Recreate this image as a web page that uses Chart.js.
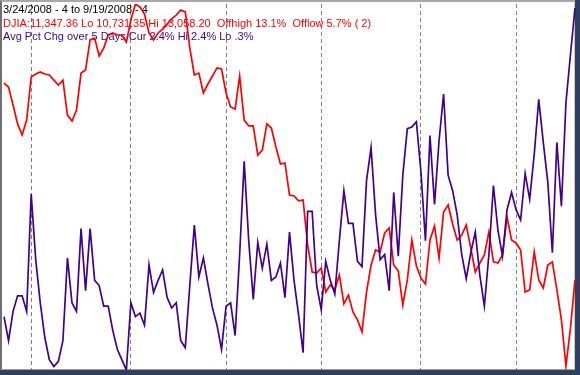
<!DOCTYPE html>
<html>
<head>
<meta charset="utf-8">
<script src="https://cdn.jsdelivr.net/npm/chart.js@4.4.0/dist/chart.umd.min.js"></script>
<style>
  html, body { margin: 0; padding: 0; background: #2b4064; }
  #frame { position: absolute; left: 0; top: 0; width: 580px; height: 375px; background: #2b4064; overflow: hidden; }
  #panel {
    position: absolute; left: 0; top: 0; width: 572px; height: 367px; background: #fff;
    border-left: 2px solid #707070; border-top: 2px solid #a8a8a8;
    border-right: 1px solid #c8c8c8; border-bottom: 1px solid #a0a0a0;
    box-shadow: 1px 1px 0 #404040;
  }
  #chart { position: absolute; left: 0; top: 0; }
</style>
</head>
<body>
<div id="frame">
  <div id="panel"></div>
  <canvas id="chart" width="580" height="375"></canvas>
</div>
<script>
// trading days, 3/24/2008 .. 9/19/2008
const marDays = [24, 25, 26, 27, 28, 31]
const aprDays = [1, 2, 3, 4, 7, 8, 9, 10, 11, 14, 15, 16, 17, 18, 21, 22, 23, 24, 25, 28, 29, 30]
const mayDays = [1, 2, 5, 6, 7, 8, 9, 12, 13, 14, 15, 16, 19, 20, 21, 22, 23, 27, 28, 29, 30]
const junDays = [2, 3, 4, 5, 6, 9, 10, 11, 12, 13, 16, 17, 18, 19, 20, 23, 24, 25, 26, 27, 30]
const julDays = [1, 2, 3, 7, 8, 9, 10, 11, 14, 15, 16, 17, 18, 21, 22, 23, 24, 25, 28, 29, 30, 31]
const augDays = [1, 4, 5, 6, 7, 8, 11, 12, 13, 14, 15, 18, 19, 20, 21, 22, 25, 26, 27, 28, 29]
const sepDays = [2, 3, 4, 5, 8, 9, 10, 11, 12, 15, 16, 17, 18, 19]

// DJIA closes
const djia = [
  12550, 12524, 12409, 12287, 12216, 12312, 12589, 12608, 12621, 12608,
  12602, 12569, 12537, 12569, 12344, 12306, 12377, 12614, 12634, 12827,
  12839, 12724, 12775, 12859, 12872, 12859, 12859, 12814, 12955, 13058.2,
  13039, 12994, 12872, 12827, 12872, 12897, 12929, 12962, 12987, 13019,
  13007, 12775, 12602, 12614, 12486, 12544, 12595, 12647, 12640, 12486,
  12396, 12383, 12595, 12312, 12274, 12274, 12087, 12119, 12287, 12261,
  12139, 12029, 12036, 11830, 11824, 11792, 11798, 11509, 11335, 11329,
  11361, 11207, 11252, 11220, 11316, 11130, 11187, 11078, 11027, 10950,
  11207, 11380, 11477, 11464, 11586, 11618, 11380, 11342, 11123, 11284,
  11541, 11374, 11297, 11258, 11541, 11631, 11425, 11721, 11766, 11644,
  11541, 11573, 11637, 11489, 11335, 11393, 11445, 11592, 11400, 11393,
  11445, 11689, 11541, 11522, 11477, 11207, 11220, 11464, 11284, 11232,
  11380, 11400, 11220, 11027, 10731.35, 10975, 11284
]

// average pct change over 5 days (blue line)
const avgPctChg = [
  0.61, 0.47, 0.64, 0.73, 0.73, 0.64, 1.32, 0.94, 0.69, 0.49,
  0.36, 0.32, 0.35, 0.47, 0.95, 0.69, 0.64, 1.12, 0.76, 1.12,
  0.82, 0.79, 0.67, 0.67, 0.53, 0.42, 0.36, 0.30, 0.69, 0.61,
  0.63, 0.56, 0.91, 0.75, 0.82, 0.88, 0.72, 0.66, 0.69, 0.47,
  0.43, 0.79, 1.14, 0.84, 0.95, 0.80, 0.66, 0.56, 0.42, 0.67,
  0.69, 0.50, 0.97, 1.51, 1.05, 0.71, 1.04, 0.89, 1.03, 0.82,
  0.84, 0.92, 0.72, 1.10, 0.82, 0.62, 0.40, 1.22, 1.22, 0.79,
  0.65, 0.93, 0.82, 0.74, 1.05, 1.34, 1.15, 1.15, 0.93, 0.90,
  1.40, 1.59, 1.20, 0.94, 0.97, 0.76, 1.33, 0.96, 1.43, 1.70,
  1.71, 1.74, 1.45, 1.05, 1.66, 1.26, 1.63, 1.90, 1.43, 1.34,
  1.20, 0.97, 0.83, 0.98, 1.10, 0.85, 0.67, 0.97, 1.37, 1.11,
  0.96, 1.23, 1.33, 1.23, 1.17, 1.44, 1.29, 1.55, 1.87, 1.62,
  1.39, 0.98, 1.62, 1.25, 1.85, 2.13, 2.40
]

const headerLines = [
  { text: "3/24/2008 - 4 to 9/19/2008 - 4", color: "#000000" },
  { text: "DJIA:11,347.36 Lo 10,731.35 Hi 13,058.20  Offhigh 13.1%  Offlow 5.7% ( 2)", color: "#ff0000" },
  { text: "Avg Pct Chg over 5 Days Cur 2.4% Hi 2.4% Lo .3%", color: "#42008c" },
]

const months = [
  [3, marDays], [4, aprDays], [5, mayDays], [6, junDays], [7, julDays], [8, augDays], [9, sepDays],
]
const labels = []
const monthOf = []
months.forEach(([m, days]) => {
  days.forEach((d) => {
    labels.push(m + "/" + d + "/2008")
    monthOf.push(m)
  })
})

// text block in the upper left, under the lines
const headerText = {
  id: "headerText",
  beforeDatasetsDraw(chart) {
    const ctx = chart.ctx
    ctx.save()
    ctx.font = '11px "Liberation Sans", Arial, sans-serif'
    ctx.textBaseline = "alphabetic"
    ctx.textAlign = "left"
    headerLines.forEach((line, i) => {
      ctx.fillStyle = line.color
      ctx.fillText(line.text, 3, 13 + i * 13.5)
    })
    ctx.restore()
  },
}

new Chart(document.getElementById("chart"), {
  type: "line",
  data: {
    labels: labels,
    datasets: [
      {
        label: "DJIA",
        data: djia,
        borderColor: "#ff0000",
        borderWidth: 1.7,
        pointRadius: 0,
        tension: 0,
        yAxisID: "yDjia",
        order: 2,
      },
      {
        label: "Avg Pct Chg over 5 Days",
        data: avgPctChg,
        borderColor: "#42008c",
        borderWidth: 1.7,
        pointRadius: 0,
        tension: 0,
        yAxisID: "yPct",
        order: 1,
      },
    ],
  },
  options: {
    responsive: false,
    animation: false,
    layout: { padding: { left: 4, right: 5, top: 4, bottom: 5 } },
    plugins: {
      legend: { display: false },
      tooltip: { enabled: false },
    },
    scales: {
      x: {
        offset: false,
        ticks: { display: false, autoSkip: false },
        grid: {
          drawTicks: false,
          lineWidth: 1,
          color: (c) => (c.index > 0 && monthOf[c.index] !== monthOf[c.index - 1] ? "#808080" : "rgba(0,0,0,0)"),
        },
        border: { display: false, dash: [4, 3] },
      },
      yDjia: {
        position: "left",
        display: false,
        min: 10705,
        max: 13058.2,
      },
      yPct: {
        position: "right",
        display: false,
        min: 0.3,
        max: 2.423,
      },
    },
  },
  plugins: [headerText],
})
</script>
</body>
</html>
